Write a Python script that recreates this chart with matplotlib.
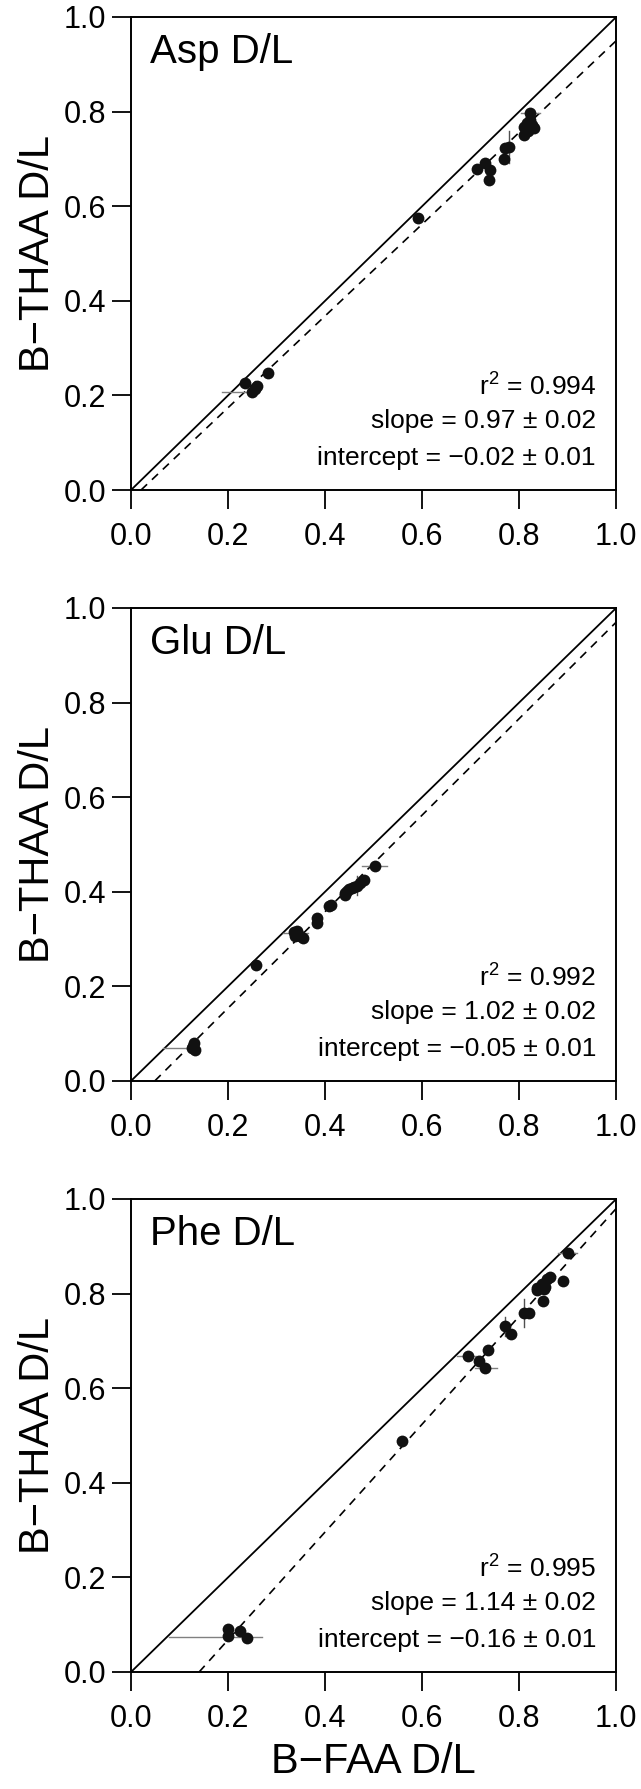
import numpy as np
import matplotlib.pyplot as plt

plt.rcParams['font.family'] = ['Liberation Sans', 'DejaVu Sans']
plt.rcParams['mathtext.default'] = 'regular'

# Asp D/L
asp_x = [0.234, 0.250, 0.256, 0.259, 0.283, 0.591,
         0.714, 0.730, 0.739, 0.737, 0.769, 0.771, 0.778,
         0.809, 0.809, 0.816, 0.823, 0.823, 0.830, 0.818, 0.826]
asp_y = [0.227, 0.208, 0.214, 0.220, 0.247, 0.576,
         0.679, 0.691, 0.677, 0.655, 0.699, 0.722, 0.725,
         0.768, 0.751, 0.775, 0.782, 0.798, 0.765, 0.760, 0.772]
asp_xerr = [(0.250, 0.208, 0.062, 0.0), (0.823, 0.798, 0.02, 0.02)]
asp_yerr = [(0.778, 0.725, 0.033)]

# Glu D/L
glu_x = [0.125, 0.130, 0.132, 0.127, 0.258,
         0.335, 0.342, 0.348, 0.338, 0.354, 0.383, 0.384, 0.407, 0.412,
         0.440, 0.442, 0.446, 0.450, 0.455, 0.460, 0.466, 0.472, 0.480, 0.502]
glu_y = [0.070, 0.080, 0.066, 0.074, 0.244,
         0.314, 0.317, 0.306, 0.306, 0.303, 0.345, 0.333, 0.369, 0.372,
         0.392, 0.398, 0.402, 0.405, 0.408, 0.410, 0.413, 0.418, 0.425, 0.455]
glu_xerr = [(0.128, 0.070, 0.062, 0.014), (0.340, 0.312, 0.027, 0.025),
            (0.502, 0.455, 0.025, 0.025)]
glu_yerr = [(0.466, 0.413, 0.02)]

# Phe D/L
phe_x = [0.200, 0.200, 0.225, 0.238, 0.558,
         0.695, 0.718, 0.730, 0.735, 0.770, 0.783, 0.810, 0.821,
         0.837, 0.837, 0.847, 0.850, 0.852, 0.854, 0.857, 0.864, 0.890, 0.900]
phe_y = [0.090, 0.077, 0.087, 0.072, 0.488,
         0.669, 0.658, 0.642, 0.681, 0.731, 0.715, 0.759, 0.758,
         0.807, 0.811, 0.821, 0.785, 0.809, 0.814, 0.830, 0.836, 0.827, 0.886]
phe_xerr = [(0.22, 0.074, 0.142, 0.05), (0.695, 0.669, 0.023, 0.025),
            (0.730, 0.642, 0.021, 0.024), (0.900, 0.886, 0.02, 0.02)]
phe_yerr = [(0.810, 0.759, 0.03), (0.770, 0.731, 0.02)]

names = ['Asp D/L', 'Glu D/L', 'Phe D/L']
r2 = ['0.994', '0.992', '0.995']
slopes = [0.97, 1.02, 1.14]
intercepts = [-0.02, -0.05, -0.16]
slope_txt = ['0.97 \u00b1 0.02', '1.02 \u00b1 0.02', '1.14 \u00b1 0.02']
icpt_txt = ['\u22120.02 \u00b1 0.01', '\u22120.05 \u00b1 0.01', '\u22120.16 \u00b1 0.01']

data = [(asp_x, asp_y, asp_xerr, asp_yerr),
        (glu_x, glu_y, glu_xerr, glu_yerr),
        (phe_x, phe_y, phe_xerr, phe_yerr)]

fig = plt.figure(figsize=(6.41, 17.89), dpi=100)
bottoms = [0.7261, 0.3958, 0.0654]
ticks = [0.0, 0.2, 0.4, 0.6, 0.8, 1.0]

for i in range(3):
    ax = fig.add_axes([0.2044, bottoms[i], 0.757, 0.2644])
    xs, ys, xe, ye = data[i]

    # error bars first, light grey
    for (x, y, lo, hi) in xe:
        ax.plot([x - lo, x + hi], [y, y], color='#808080', lw=1.0, zorder=2)
    for (x, y, e) in ye:
        ax.plot([x, x], [y - e, y + e], color='#505050', lw=1.0, zorder=2)

    ax.plot([0, 1], [0, 1], color='black', lw=1.3, zorder=1)
    x0 = max(0.0, -intercepts[i] / slopes[i])
    x1 = min(1.0, (1 - intercepts[i]) / slopes[i])
    lx = np.array([x0, x1])
    ax.plot(lx, slopes[i] * lx + intercepts[i], color='black', lw=1.2,
            dashes=(5, 4), zorder=1)

    ax.plot(xs, ys, 'o', color='#111111', ms=8.5, mec='none', zorder=3)

    ax.set_xlim(0, 1)
    ax.set_ylim(0, 1)
    ax.set_xticks(ticks)
    ax.set_yticks(ticks)
    ax.set_xticklabels(['%.1f' % t for t in ticks])
    ax.set_yticklabels(['%.1f' % t for t in ticks])
    ax.tick_params(direction='out', length=14, width=1.3, labelsize=22, pad=4)
    ax.tick_params(axis='x', pad=9)
    for s in ax.spines.values():
        s.set_linewidth(1.4)

    ax.text(0.04, 0.925, names[i], transform=ax.transAxes, fontsize=29,
            ha='left', va='center')
    ax.text(0.958, 0.218, 'r$^{2}$ = ' + r2[i], transform=ax.transAxes,
            fontsize=19, ha='right', va='center')
    ax.text(0.958, 0.145, 'slope = ' + slope_txt[i], transform=ax.transAxes,
            fontsize=19, ha='right', va='center')
    ax.text(0.958, 0.068, 'intercept = ' + icpt_txt[i], transform=ax.transAxes,
            fontsize=19, ha='right', va='center')

    ax.set_ylabel('B\u2212THAA D/L', fontsize=30, labelpad=4)
    if i == 2:
        ax.set_xlabel('B\u2212FAA D/L', fontsize=30, labelpad=6)

fig.savefig('out.png', dpi=100)
